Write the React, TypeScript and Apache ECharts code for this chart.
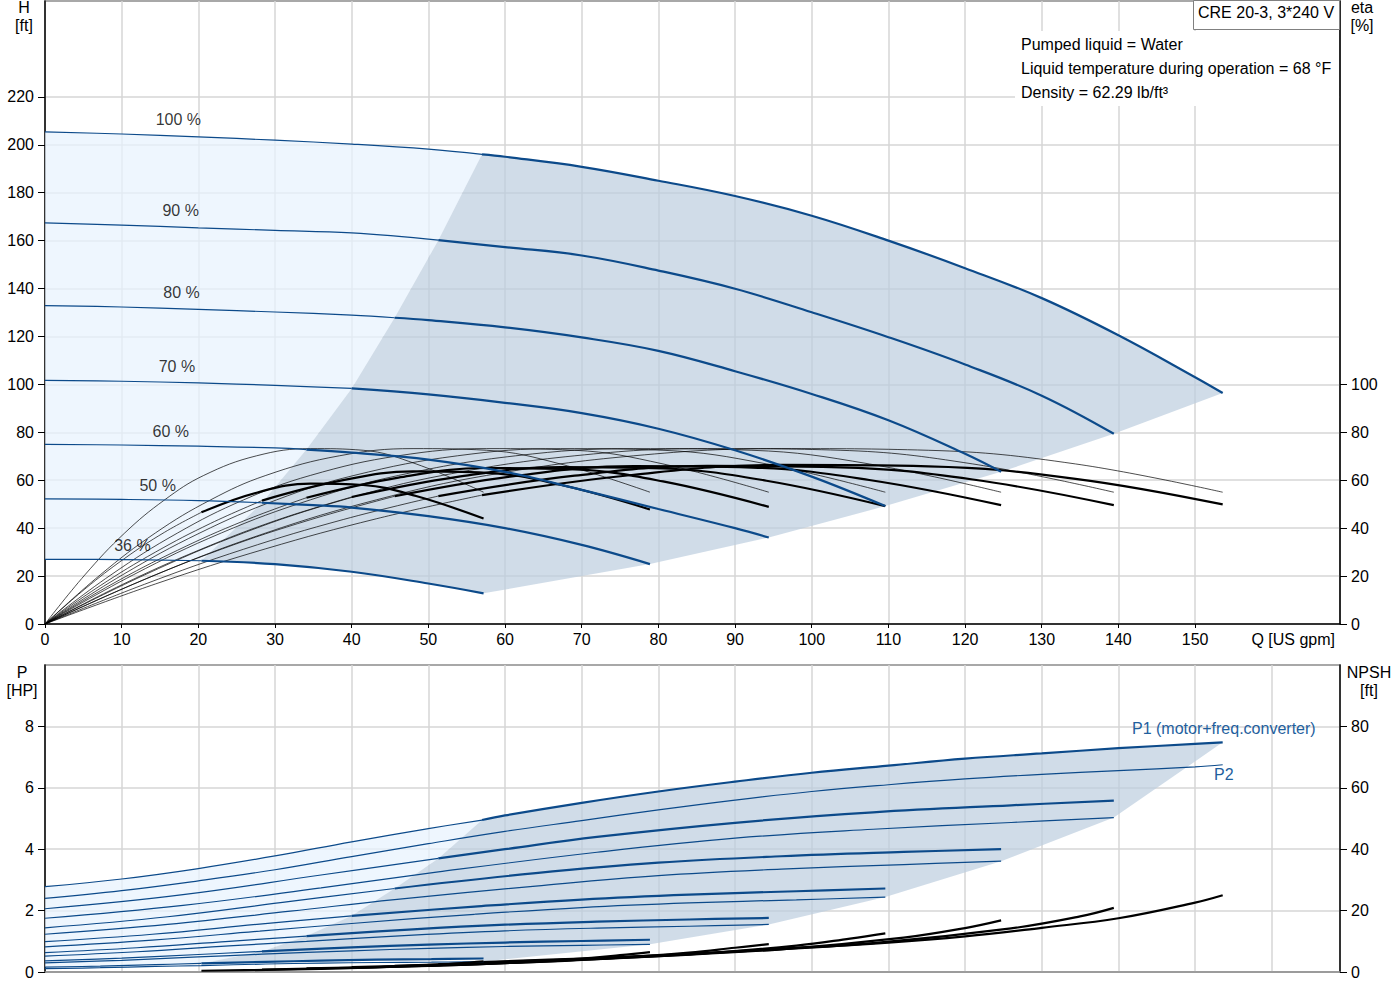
import React, { useEffect, useRef } from 'react';
import * as echarts from 'echarts';

// ==========================================================================
// Data
// ==========================================================================
const speeds = ['100 %', '90 %', '80 %', '70 %', '60 %', '50 %', '36 %'];
// where the speed captions sit (Q, H)
const speedLabelAt = [
  [17.4, 210.4], [17.7, 172.4], [17.8, 138.3], [17.2, 107.5], [16.4, 80.4], [14.7, 57.7], [11.4, 32.7],
];

const qTicks = [0, 10, 20, 30, 40, 50, 60, 70, 80, 90, 100, 110, 120, 130, 140, 150];
const hTicks = [0, 20, 40, 60, 80, 100, 120, 140, 160, 180, 200, 220];
const etaTicks = [0, 20, 40, 60, 80, 100];
const pTicks = [0, 2, 4, 6, 8];
const npshTicks = [0, 20, 40, 60, 80];

const title = 'CRE 20-3, 3*240 V';
const infoLines = ['Pumped liquid = Water', 'Liquid temperature during operation = 68 °F', 'Density = 62.29 lb/ft³'];

// head H [ft] — thin part left of min. flow, thick part in the operating range
const headThin = [
  [[0, 205.4], [10, 204.5], [20, 203.3], [30, 201.9], [40, 200.3], [50, 198.2], [57, 196]],
  [[0, 167.4], [10, 166.5], [20, 165.3], [30, 164.3], [40, 163.2], [51.3, 160.2]],
  [[0, 132.9], [10, 132.3], [20, 131.3], [30, 130.2], [40, 128.9], [45.6, 127.8]],
  [[0, 101.7], [10, 101.3], [20, 100.6], [30, 99.6], [40, 98.3]],
  [[0, 75], [10, 74.7], [20, 74.2], [30, 73.5], [34.1, 72.8]],
  [[0, 52.2], [10, 52], [20, 51.5], [28.3, 50.6]],
  [[0, 27], [10, 26.9], [20.4, 26.4]],
];
const headThick = [
  [[57, 196], [60, 195], [70, 190.8], [80, 185], [90, 178.6], [100, 170.4], [110, 160], [120, 148.5], [130, 136], [140, 120.5], [150, 103], [153.6, 96.4]],
  [[51.3, 160.2], [60, 157.3], [70, 153.8], [80, 147.5], [90, 139.9], [100, 130.1], [110, 119.7], [120, 108.3], [130, 95.3], [139.4, 79.4]],
  [[45.6, 127.8], [50, 126.8], [60, 123.8], [70, 119.6], [80, 114], [90, 105.5], [100, 96], [110, 85], [120, 71], [124.7, 63.5]],
  [[40, 98.3], [50, 95.8], [60, 92.3], [70, 88], [80, 81.5], [90, 72.5], [100, 61.5], [109.6, 49.2]],
  [[34.1, 72.8], [40, 71.5], [50, 68.6], [60, 63.5], [70, 56], [80, 48], [90, 40], [94.4, 36.1]],
  [[28.3, 50.6], [35, 49.6], [40, 48.6], [50, 45], [60, 40], [70, 33], [78.9, 25]],
  [[20.4, 26.4], [30, 25], [40, 21.8], [50, 16.9], [57.2, 12.8]],
];

// pump efficiency [%] (thin lines)
const etaPump = [
  [[0, 0], [14.4, 20.5], [28.8, 38], [43.2, 51.8], [57.6, 62], [76.8, 70.2], [96, 73.2], [115.2, 72.5], [134.4, 66.8], [153.6, 55]],
  [[0, 0], [13, 20.5], [25.9, 38], [38.9, 51.8], [51.8, 62], [69.1, 70.2], [86.4, 73.2], [103.7, 72.5], [121, 66.8], [139.4, 55]],
  [[0, 0], [11.5, 20.5], [23, 38], [34.6, 51.8], [46.1, 62], [61.4, 70.2], [76.8, 73.2], [92.2, 72.5], [107.5, 66.8], [124.7, 55]],
  [[0, 0], [10.1, 20.5], [20.2, 38], [30.2, 51.8], [40.3, 62], [53.8, 70.2], [67.2, 73.2], [80.6, 72.5], [94.1, 66.8], [109.6, 55]],
  [[0, 0], [8.6, 20.5], [17.3, 38], [25.9, 51.8], [34.6, 62], [46.1, 70.2], [57.6, 73.2], [69.1, 72.5], [80.6, 66.8], [94.4, 55]],
  [[0, 0], [7.2, 20.5], [14.4, 38], [21.6, 51.8], [28.8, 62], [38.4, 70.2], [48, 73.2], [57.6, 72.5], [67.2, 66.8], [78.9, 55]],
  [[0, 0], [5.2, 20.5], [10.4, 38], [15.6, 51.8], [20.7, 62], [27.6, 70.2], [34.6, 73.2], [41.5, 72.5], [48.4, 66.8], [57.2, 55]],
];

// total efficiency [%] (motor + converter)
const etaTotalThin = [
  [[0, 0], [14.4, 16.7], [28.8, 31.4], [43.2, 43.9], [57, 53.8]],
  [[0, 0], [13, 16.6], [25.9, 31.2], [38.9, 43.6], [51.3, 53.4]],
  [[0, 0], [11.5, 16.6], [23, 31.2], [34.6, 43.5], [45.6, 53.3]],
  [[0, 0], [10.1, 16.5], [20.2, 31], [30.2, 43.3], [40, 53]],
  [[0, 0], [8.6, 16.4], [17.3, 30.8], [25.9, 43], [34.1, 52.7]],
  [[0, 0], [7.2, 16], [14.4, 30], [21.6, 42], [28.3, 51.5]],
  [[0, 0], [5.2, 14.6], [10.4, 27.4], [15.6, 38.3], [20.4, 46.6]],
];
const etaTotalThick = [
  [[57, 53.8], [76.8, 62.3], [96, 66.4], [115.2, 65.8], [134.4, 60.6], [153.6, 49.9]],
  [[51.3, 53.4], [69.1, 61.9], [86.4, 66], [103.7, 65.4], [121, 60.3], [139.4, 49.6]],
  [[45.6, 53.3], [61.4, 61.8], [76.8, 65.9], [92.2, 65.3], [107.5, 60.1], [124.7, 49.6]],
  [[40, 53], [53.8, 61.4], [67.2, 65.5], [80.6, 64.9], [94.1, 59.8], [109.6, 49.2]],
  [[34.1, 52.7], [46.1, 61.1], [57.6, 65.1], [69.1, 64.5], [80.6, 59.5], [94.4, 48.9]],
  [[28.3, 51.5], [38.4, 59.7], [48, 63.7], [57.6, 63.1], [67.2, 58.1], [78.9, 47.8]],
  [[20.4, 46.6], [27.6, 54.8], [34.6, 58.6], [41.5, 58], [48.4, 53.4], [57.2, 44]],
];

// P1 [HP] (motor + freq. converter)
const p1Thin = [
  [[0, 2.78], [10, 3.03], [20, 3.37], [30, 3.78], [40, 4.24], [50, 4.67], [57, 4.95]],
  [[0, 2.06], [18, 2.52], [36, 3.16], [51.3, 3.7]],
  [[0, 1.44], [16, 1.8], [32, 2.3], [45.6, 2.72]],
  [[0, 0.99], [14, 1.23], [28, 1.56], [40, 1.83]],
  [[0, 0.63], [12, 0.79], [24, 1.0], [34.1, 1.17]],
  [[0, 0.36], [10, 0.45], [20, 0.57], [28.3, 0.67]],
  [[0, 0.16], [7.2, 0.19], [14.4, 0.24], [20.4, 0.28]],
];
const p1Thick = [
  [[57, 4.95], [60, 5.1], [70, 5.51], [80, 5.88], [90, 6.2], [100, 6.49], [110, 6.72], [120, 6.95], [130, 7.12], [140, 7.29], [150, 7.43], [153.6, 7.48]],
  [[51.3, 3.7], [60, 4.0], [72, 4.4], [90, 4.86], [108, 5.2], [126, 5.43], [139.4, 5.58]],
  [[45.6, 2.72], [64, 3.22], [80, 3.56], [96, 3.77], [112, 3.91], [124.7, 4.0]],
  [[40, 1.83], [56, 2.13], [70, 2.36], [84, 2.52], [98, 2.63], [109.6, 2.72]],
  [[34.1, 1.17], [48, 1.39], [60, 1.54], [72, 1.64], [84, 1.71], [94.4, 1.76]],
  [[28.3, 0.67], [40, 0.8], [50, 0.89], [60, 0.96], [70, 1.01], [78.9, 1.05]],
  [[20.4, 0.28], [28.8, 0.33], [36, 0.37], [43.2, 0.4], [50.4, 0.42], [57.2, 0.44]],
];

// P2 [HP] (shaft power)
const p2 = [
  [[0, 2.4], [10, 2.65], [20, 2.97], [30, 3.33], [40, 3.76], [50, 4.18], [60, 4.58], [70, 4.93], [80, 5.28], [90, 5.6], [100, 5.88], [110, 6.1], [120, 6.29], [130, 6.44], [140, 6.56], [150, 6.68], [153.6, 6.75]],
  [[0, 1.75], [18, 2.17], [36, 2.74], [51.3, 3.26], [72, 3.9], [90, 4.36], [108, 4.65], [126, 4.87], [139.4, 5.03]],
  [[0, 1.23], [16, 1.55], [32, 1.98], [45.6, 2.36], [64, 2.8], [80, 3.14], [96, 3.35], [112, 3.5], [124.7, 3.61]],
  [[0, 0.82], [14, 1.04], [28, 1.33], [40, 1.58], [56, 1.88], [70, 2.1], [84, 2.25], [98, 2.35], [109.6, 2.44]],
  [[0, 0.52], [12, 0.66], [24, 0.85], [34.1, 1.0], [48, 1.2], [60, 1.34], [72, 1.43], [84, 1.49], [94.4, 1.55]],
  [[0, 0.3], [10, 0.38], [20, 0.49], [28.3, 0.58], [40, 0.69], [50, 0.77], [60, 0.83], [70, 0.87], [78.9, 0.9]],
  [[0, 0.11], [7.2, 0.14], [14.4, 0.18], [20.4, 0.21], [28.8, 0.26], [36, 0.29], [43.2, 0.31], [50.4, 0.32], [57.2, 0.34]],
];

// NPSH [ft]
const npsh = [
  [[57, 3.2], [70, 4.4], [80, 5.4], [94, 7.3], [110, 9.6], [120, 11.6], [130, 14.4], [140, 17.5], [150, 22.6], [153.6, 25]],
  [[51.3, 2.6], [72, 4.4], [90, 6.6], [108, 9.4], [126, 14.2], [135, 18.1], [139.4, 20.9]],
  [[45.6, 2.0], [64, 3.5], [80, 5.2], [96, 7.4], [112, 11.2], [120, 14.3], [124.7, 16.8]],
  [[40, 1.6], [56, 2.6], [70, 4.0], [84, 5.7], [98, 8.6], [105, 10.9], [109.6, 12.6]],
  [[34.1, 1.2], [48, 1.9], [60, 2.9], [72, 4.2], [84, 6.3], [90, 7.9], [94.4, 9.1]],
  [[28.3, 0.8], [40, 1.35], [50, 2.0], [60, 2.9], [70, 4.4], [75, 5.5], [78.9, 6.5]],
  [[20.4, 0.4], [28.8, 0.7], [36, 1.05], [43.2, 1.5], [50.4, 2.3], [54, 2.85], [57.2, 3.5]],
];

// ==========================================================================
// styling
// ==========================================================================
const FONT = '"Liberation Sans", Arial, sans-serif';
const BLUE = '#0c4a8a';
const LABEL_BLUE = '#1f5f9e';
const GRID = '#d6d6d6';
const LIGHT = 'rgba(231, 242, 254, 0.72)';
const DARK = 'rgba(188, 205, 222, 0.7)';

const first = (c: number[][]) => c[0];
const last = (c: number[][]) => c[c.length - 1];

// shaded zones built from the curves' own end points
const headLight = [...headThin[0], ...headThick.slice(1).map(first), ...[...headThin[6]].reverse()];
const headDark = [
  ...headThick[0],
  ...headThick.slice(1).map(last),
  ...[...headThick[6]].reverse(),
  ...headThick.slice(1, 6).reverse().map(first),
];
const powerLight = [...p1Thin[0], ...p1Thick.slice(1).map(first), ...[...p1Thin[6]].reverse()];
const powerDark = [
  ...p1Thick[0],
  ...p2.slice(1).map(last),
  ...[...p1Thick[6]].reverse(),
  ...p1Thick.slice(1, 6).reverse().map(first),
];

const zone = (pts: number[][], fill: string, xAxisIndex: number, yAxisIndex: number) => ({
  type: 'custom',
  xAxisIndex,
  yAxisIndex,
  silent: true,
  z: 1,
  data: [pts[0]],
  encode: { x: 0, y: 1 },
  renderItem: (_params: any, api: any) => ({
    type: 'polygon',
    shape: { points: pts.map((p) => api.coord(p)) },
    style: { fill },
  }),
});

const curve = (data: number[][], xAxisIndex: number, yAxisIndex: number, color: string, width: number, z = 2) => ({
  type: 'line',
  data,
  xAxisIndex,
  yAxisIndex,
  symbol: 'none',
  showSymbol: false,
  smooth: 0.4,
  silent: true,
  z,
  lineStyle: { color, width },
});

const text = (x: number, y: number, s: string, align = 'center', color = '#000', size = 16) => ({
  type: 'text',
  x,
  y,
  z: 101,
  silent: true,
  style: {
    text: s,
    fill: color,
    fontSize: size,
    fontFamily: FONT,
    align,
    textAlign: align,
    verticalAlign: 'middle',
    textVerticalAlign: 'middle',
  },
});

const axisText = { color: '#000', fontSize: 16, fontFamily: FONT };

export default function App() {
  const chartRef = useRef<HTMLDivElement>(null);

  useEffect(() => {
    if (!chartRef.current) return;
    const chart = echarts.init(chartRef.current, undefined, { renderer: 'svg' });

    const series: any[] = [
      zone(headLight, LIGHT, 0, 0),
      zone(headDark, DARK, 0, 0),
      zone(powerLight, LIGHT, 1, 2),
      zone(powerDark, DARK, 1, 2),
    ];

    speeds.forEach((_s, i) => {
      series.push(curve(etaPump[i], 0, 1, '#000', 0.7));
      series.push(curve(etaTotalThin[i], 0, 1, '#000', 0.7));
      series.push(curve(etaTotalThick[i], 0, 1, '#000', 2.2, 3));
    });
    speeds.forEach((_s, i) => {
      series.push(curve(headThin[i], 0, 0, BLUE, 1.2, 4));
      series.push(curve(headThick[i], 0, 0, BLUE, 2.2, 4));
      series.push(curve(p2[i], 1, 2, BLUE, 1.2, 3));
      series.push(curve(p1Thin[i], 1, 2, BLUE, 1.2, 4));
      series.push(curve(p1Thick[i], 1, 2, BLUE, 2.2, 4));
      series.push(curve(npsh[i], 1, 3, '#000', 2.2, 3));
    });

    series.push({
      type: 'scatter',
      xAxisIndex: 0,
      yAxisIndex: 0,
      silent: true,
      symbolSize: 1,
      itemStyle: { color: 'transparent' },
      z: 6,
      data: speedLabelAt.map((p, i) => ({ value: p, name: speeds[i] })),
      label: {
        show: true,
        position: 'inside',
        formatter: '{b}',
        color: '#000',
        textBorderWidth: 0,
        fontSize: 16,
        fontFamily: FONT,
      },
    });

    const xCommon = {
      type: 'value',
      min: 0,
      max: 168.9,
      interval: 10,
      splitLine: { show: true, lineStyle: { color: GRID, width: 1.5 } },
    };
    const yLine = { show: true, onZero: false, lineStyle: { color: '#000', width: 1.5 } };

    const option: any = {
      animation: false,
      backgroundColor: '#fff',
      grid: [
        { left: 45, top: 1, width: 1295, height: 623, show: true, borderColor: '#8c8c8c', borderWidth: 1.5 },
        { left: 45, top: 665, width: 1295, height: 307, show: true, borderColor: '#8c8c8c', borderWidth: 1.5 },
      ],
      xAxis: [
        {
          ...xCommon,
          gridIndex: 0,
          axisLine: { show: true, onZero: false, lineStyle: { color: '#000', width: 1.5 } },
          axisTick: { show: true, length: 4, customValues: qTicks, lineStyle: { color: '#000' } },
          axisLabel: { ...axisText, margin: 7, customValues: qTicks },
        },
        {
          ...xCommon,
          gridIndex: 1,
          axisLine: { show: true, onZero: false, lineStyle: { color: '#8c8c8c', width: 1.5 } },
          axisTick: { show: false },
          axisLabel: { show: false },
        },
      ],
      yAxis: [
        {
          type: 'value',
          gridIndex: 0,
          min: 0,
          max: 260,
          interval: 20,
          axisLine: yLine,
          axisTick: { show: true, length: 7, customValues: hTicks, lineStyle: { color: '#000' } },
          axisLabel: { ...axisText, margin: 11, customValues: hTicks },
          splitLine: { show: true, lineStyle: { color: GRID, width: 1.5 } },
        },
        {
          type: 'value',
          gridIndex: 0,
          position: 'right',
          min: 0,
          max: 260,
          interval: 20,
          axisLine: yLine,
          axisTick: { show: true, length: 7, customValues: etaTicks, lineStyle: { color: '#000' } },
          axisLabel: { ...axisText, margin: 11, customValues: etaTicks },
          splitLine: { show: false },
        },
        {
          type: 'value',
          gridIndex: 1,
          min: 0,
          max: 10,
          interval: 2,
          axisLine: yLine,
          axisTick: { show: true, length: 7, customValues: pTicks, lineStyle: { color: '#000' } },
          axisLabel: { ...axisText, margin: 11, customValues: pTicks },
          splitLine: { show: true, lineStyle: { color: GRID, width: 1.5 } },
        },
        {
          type: 'value',
          gridIndex: 1,
          position: 'right',
          min: 0,
          max: 100,
          interval: 20,
          axisLine: yLine,
          axisTick: { show: true, length: 7, customValues: npshTicks, lineStyle: { color: '#000' } },
          axisLabel: { ...axisText, margin: 11, customValues: npshTicks },
          splitLine: { show: false },
        },
      ],
      graphic: [
        // info panel & title box cover the grid behind them
        { type: 'rect', z: 100, silent: true, shape: { x: 1015, y: 31, width: 324, height: 75 }, style: { fill: '#fff' } },
        {
          type: 'rect',
          z: 100,
          silent: true,
          shape: { x: 1193.5, y: 0.5, width: 146, height: 29 },
          style: { fill: '#fff', stroke: '#808080', lineWidth: 1 },
        },
        text(1198, 12, title, 'left'),
        ...infoLines.map((s, i) => text(1021, 44 + i * 24, s, 'left')),
        text(24, 7, 'H'),
        text(24, 25, '[ft]'),
        text(1362, 7, 'eta'),
        text(1362, 25, '[%]'),
        text(22, 672, 'P'),
        text(22, 690, '[HP]'),
        text(1369, 672, 'NPSH'),
        text(1369, 690, '[ft]'),
        text(1335, 639, 'Q [US gpm]', 'right'),
        text(1132, 728, 'P1 (motor+freq.converter)', 'left', LABEL_BLUE),
        text(1214, 774, 'P2', 'left', LABEL_BLUE),
      ],
      series,
    };

    chart.setOption(option);
    return () => chart.dispose();
  }, []);

  return <div ref={chartRef} style={{ position: 'absolute', left: 0, top: 0, width: 1400, height: 1000 }} />;
}
